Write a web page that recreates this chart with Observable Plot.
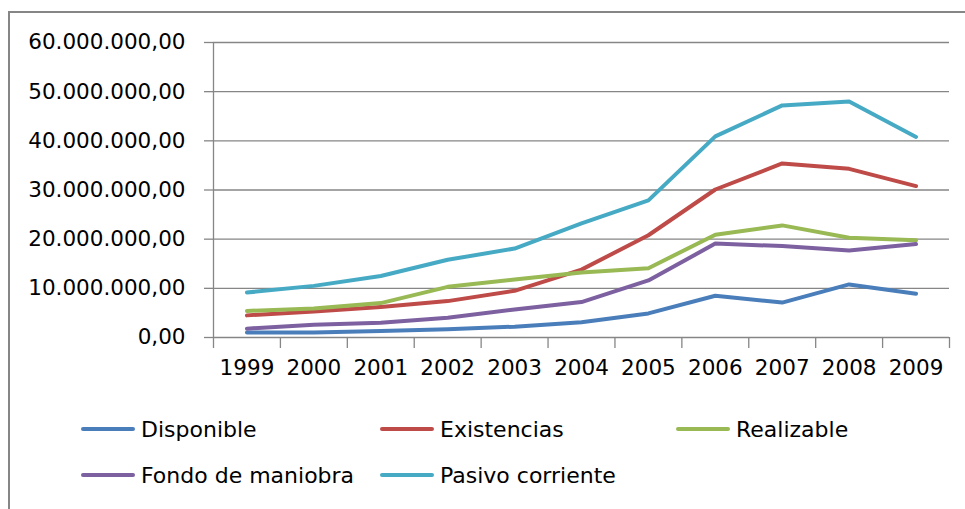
<!DOCTYPE html>
<html>
<head>
<meta charset="utf-8">
<script src="https://cdn.jsdelivr.net/npm/d3@7"></script>
<script src="https://cdn.jsdelivr.net/npm/@observablehq/plot@0.6"></script>
<style>
  html, body { margin: 0; padding: 0; background: #fff; width: 965px; height: 509px; overflow: hidden; }
  #frame { position: absolute; left: 8px; top: 11px; width: 1100px; height: 700px;
           border-left: 2.5px solid #868686; border-top: 2.5px solid #868686; box-sizing: border-box; }
  #chart { position: absolute; left: 0; top: 0; }
  #chart svg [aria-label^="x-axis"] line, #chart svg [aria-label^="x-axis"] path,
  #chart svg [aria-label^="y-axis"] line, #chart svg [aria-label^="y-axis"] path { stroke: #868686; stroke-width: 1.3px; }
  #legend { position: absolute; left: 0; top: 400px; width: 965px; height: 109px;
            font-family: "DejaVu Sans", sans-serif; font-size: 22px; color: #000; }
  .item { position: absolute; display: flex; align-items: center; height: 30px; }
  .swatch { width: 54px; height: 4px; border-radius: 2px; margin-right: 6px; }
</style>
</head>
<body>
<div id="frame"></div>
<div id="chart"></div>
<div id="legend"></div>
<script>
const years = [1999, 2000, 2001, 2002, 2003, 2004, 2005, 2006, 2007, 2008, 2009];
const seriesNames = ["Disponible", "Existencias", "Realizable", "Fondo de maniobra", "Pasivo corriente"];
const seriesColors = ["#4A7EBB", "#BE4B48", "#98B954", "#7D60A0", "#46AAC5"];
// values in euros
const disponible  = [1.0e6, 1.0e6, 1.3e6, 1.7e6, 2.2e6, 3.1e6, 4.9e6, 8.5e6, 7.1e6, 10.8e6, 8.9e6];
const existencias = [4.5e6, 5.3e6, 6.2e6, 7.4e6, 9.5e6, 13.8e6, 20.8e6, 30.1e6, 35.4e6, 34.3e6, 30.8e6];
const realizable  = [5.4e6, 5.9e6, 7.0e6, 10.3e6, 11.8e6, 13.2e6, 14.1e6, 20.9e6, 22.8e6, 20.3e6, 19.8e6];
const fondo       = [1.8e6, 2.6e6, 3.0e6, 4.0e6, 5.7e6, 7.2e6, 11.6e6, 19.1e6, 18.6e6, 17.7e6, 19.0e6];
const pasivo      = [9.15e6, 10.5e6, 12.5e6, 15.8e6, 18.1e6, 23.2e6, 27.9e6, 40.9e6, 47.2e6, 48.0e6, 40.8e6];
const yTicks = [0, 10e6, 20e6, 30e6, 40e6, 50e6, 60e6];

const allSeries = [disponible, existencias, realizable, fondo, pasivo];
const rows = [];
allSeries.forEach((vals, s) => vals.forEach((v, i) => rows.push({year: years[i], value: v, series: seriesNames[s]})));

const boundaries = years.map(y => y - 0.5).concat([years[years.length - 1] + 0.5]);
const locale = d3.formatLocale({decimal: ",", thousands: ".", grouping: [3], currency: ["", "€"]});
const fmt = locale.format(",.2f");

const chart = Plot.plot({
  width: 965,
  height: 400,
  marginLeft: 213,
  marginRight: 16,
  marginTop: 42,
  marginBottom: 63,
  style: {fontFamily: "DejaVu Sans, sans-serif", fontSize: "21.5px", color: "#000", background: "transparent"},
  x: {type: "linear", domain: [boundaries[0], boundaries[boundaries.length - 1]], ticks: boundaries,
      tickSize: 11, tickFormat: () => "", label: null},
  y: {domain: [0, 60e6], ticks: yTicks, tickFormat: fmt, tickSize: 9, tickPadding: 19, label: null},
  color: {domain: seriesNames, range: seriesColors},
  marks: [
    Plot.ruleY(yTicks, {stroke: "#868686", strokeWidth: 1.3}),
    Plot.ruleX([boundaries[0]], {y1: 0, y2: 60e6, stroke: "#868686", strokeWidth: 1.3}),
    Plot.line(rows, {x: "year", y: "value", z: "series", stroke: "series", strokeWidth: 4,
                     strokeLinecap: "round", strokeLinejoin: "round"}),
    Plot.text(years, {x: d => d, text: d => String(d), frameAnchor: "bottom", dy: 37,
                      fill: "#000", fontSize: 21.5})
  ]
});
document.getElementById("chart").appendChild(chart);

const legend = document.getElementById("legend");
const positions = [[81, 14], [380, 14], [676, 14], [81, 60], [380, 60]];
seriesNames.forEach((name, i) => {
  const item = document.createElement("div");
  item.className = "item";
  item.style.left = positions[i][0] + "px";
  item.style.top = positions[i][1] + "px";
  const sw = document.createElement("div");
  sw.className = "swatch";
  sw.style.background = seriesColors[i];
  const label = document.createElement("span");
  label.textContent = name;
  item.appendChild(sw);
  item.appendChild(label);
  legend.appendChild(item);
});
</script>
</body>
</html>
